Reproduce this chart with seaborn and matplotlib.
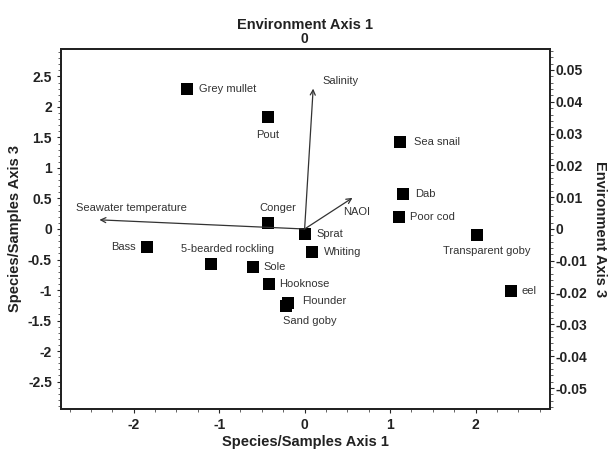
import numpy as np
import pandas as pd
import matplotlib
matplotlib.use("Agg")
import matplotlib.pyplot as plt
import seaborn as sns
from matplotlib.ticker import MultipleLocator

# species scores (Species/Samples Axis 1 vs Axis 3)
species = ["Grey mullet", "Pout", "Conger", "Sprat", "Whiting", "Bass",
           "5-bearded rockling", "Sole", "Hooknose", "Flounder", "Sand goby",
           "Sea snail", "Dab", "Poor cod", "Transparent goby", "eel"]
sp_x = [-1.37, -0.43, -0.43, 0.00, 0.09, -1.84, -1.10, -0.60, -0.42, -0.20, -0.22,
        1.11, 1.15, 1.10, 2.02, 2.41]
sp_y = [2.30, 1.84, 0.10, -0.08, -0.38, -0.29, -0.58, -0.63, -0.90, -1.22, -1.26,
        1.43, 0.57, 0.20, -0.10, -1.01]

# environmental vectors (tips, in species axis units)
env = ["Seawater temperature", "Salinity", "NAOI"]
env_x = [-2.40, 0.10, 0.56]
env_y = [0.15, 2.30, 0.51]

# label placement: offset in pixels from marker, horizontal alignment
sp_lab = {
    "Grey mullet": (12, 0, "left"), "Pout": (0, -18, "center"),
    "Conger": (10, 15, "center"), "Sprat": (12, 0, "left"),
    "Whiting": (12, 0, "left"), "Bass": (-12, 0, "right"),
    "5-bearded rockling": (17, 15, "center"), "Sole": (10, 0, "left"),
    "Hooknose": (10, 0, "left"), "Flounder": (15, 2, "left"),
    "Sand goby": (24, -15, "center"), "Sea snail": (14, 0, "left"),
    "Dab": (12, 0, "left"), "Poor cod": (11, 0, "left"),
    "Transparent goby": (9, -16, "center"), "eel": (11, 0, "left"),
}
env_lab = {"Seawater temperature": (-23, 12, "left"),
           "Salinity": (9, 8, "left"), "NAOI": (4, -14, "center")}

sns.set_style("ticks")
plt.rcParams['font.family'] = ['Liberation Sans', 'DejaVu Sans']
PX = 0.72  # pixels -> points at dpi 100
TXT = "#222222"

df = pd.DataFrame({"x": sp_x, "y": sp_y, "name": species})

fig = plt.figure(figsize=(6.11, 4.54), dpi=100)
ax = fig.add_axes([0.0998, 0.0991, 0.8003, 0.7930])

sns.scatterplot(data=df, x="x", y="y", marker="s", color="black", s=80,
                edgecolor="black", linewidth=0, ax=ax, zorder=3)

for name, ex, ey in zip(env, env_x, env_y):
    ax.annotate("", xy=(ex, ey), xytext=(0, 0),
                arrowprops=dict(arrowstyle="->", color="#333333", lw=0.9,
                                shrinkA=0, shrinkB=0, mutation_scale=9))
    dx, dy, ha = env_lab[name]
    ax.annotate(name, xy=(ex, ey), xytext=(dx * PX, dy * PX), textcoords="offset points",
                ha=ha, va="center", fontsize=8, color="#333333")

for name, px_, py_ in zip(species, sp_x, sp_y):
    dx, dy, ha = sp_lab[name]
    ax.annotate(name, xy=(px_, py_), xytext=(dx * PX, dy * PX), textcoords="offset points",
                ha=ha, va="center", fontsize=8, color="#333333")

ax.set_xlim(-2.85, 2.87)
ax.set_ylim(-2.95, 2.95)
ax.set_xticks([-2, -1, 0, 1, 2])
ax.set_xticklabels(["-2", "-1", "0", "1", "2"], fontweight="bold")
ax.set_yticks([-2.5, -2, -1.5, -1, -0.5, 0, 0.5, 1, 1.5, 2, 2.5])
ax.set_yticklabels(["-2.5", "-2", "-1.5", "-1", "-0.5", "0", "0.5", "1", "1.5", "2", "2.5"],
                   fontweight="bold")
ax.xaxis.set_minor_locator(MultipleLocator(0.25))
ax.yaxis.set_minor_locator(MultipleLocator(0.1))
ax.tick_params(axis="both", which="major", labelsize=10, length=3, width=0.8,
               direction="out", labelcolor=TXT)
ax.tick_params(axis="both", which="minor", length=2, width=0.5, direction="out")
ax.set_xlabel("Species/Samples Axis 1", fontsize=10.5, fontweight="bold", color=TXT, labelpad=2)
ax.set_ylabel("Species/Samples Axis 3", fontsize=10.5, fontweight="bold", color=TXT, labelpad=4)

# right axis: Environment Axis 3
ax_r = ax.twinx()
ax_r.set_ylim(-0.0566, 0.0566)
ax_r.set_yticks([-0.05, -0.04, -0.03, -0.02, -0.01, 0, 0.01, 0.02, 0.03, 0.04, 0.05])
ax_r.set_yticklabels(["-0.05", "-0.04", "-0.03", "-0.02", "-0.01", "0",
                      "0.01", "0.02", "0.03", "0.04", "0.05"], fontweight="bold")
ax_r.yaxis.set_minor_locator(MultipleLocator(0.002))
ax_r.tick_params(axis="y", which="major", labelsize=10, length=3, width=0.8, pad=1,
                 labelcolor=TXT)
ax_r.tick_params(axis="y", which="minor", length=2, width=0.5)
ax_r.set_ylabel("Environment Axis 3", fontsize=10.5, fontweight="bold", color=TXT,
                rotation=270, labelpad=14)

# top axis: Environment Axis 1
ax_t = ax.twiny()
ax_t.set_xlim(ax.get_xlim())
ax_t.set_xticks([0])
ax_t.set_xticklabels(["0"], fontweight="bold")
ax_t.tick_params(axis="x", labelsize=10, length=0, pad=2, labelcolor=TXT)
ax_t.set_xlabel("Environment Axis 1", fontsize=10.5, fontweight="bold", color=TXT, labelpad=2)

for a in (ax, ax_r, ax_t):
    for sp in a.spines.values():
        sp.set_linewidth(1.2)
        sp.set_color("#222222")

fig.savefig("out.png", dpi=100)
